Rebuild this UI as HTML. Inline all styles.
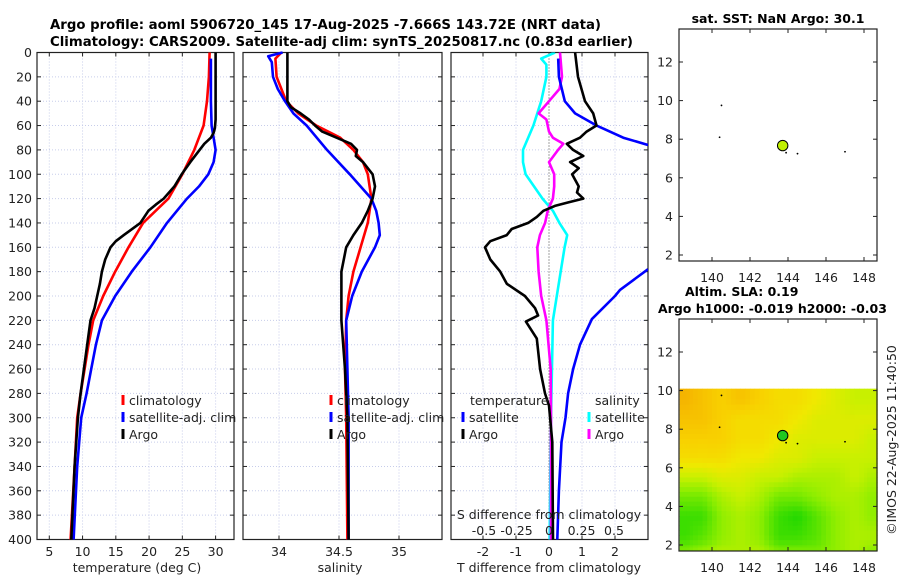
<!DOCTYPE html>
<html><head><meta charset="utf-8"><style>
html,body{margin:0;padding:0;background:#fff;}
svg text{font-family:"DejaVu Sans","Liberation Sans",sans-serif;fill:#222;}
</style></head><body>
<svg id="fig" width="900" height="580" viewBox="0 0 900 580" xmlns="http://www.w3.org/2000/svg">
<text x="50" y="29" font-size="13.5" font-weight="bold" textLength="551" lengthAdjust="spacingAndGlyphs" style="fill:#000">Argo profile: aoml 5906720_145 17-Aug-2025 -7.666S 143.72E (NRT data)</text>
<text x="50" y="46" font-size="13.5" font-weight="bold" textLength="583" lengthAdjust="spacingAndGlyphs" style="fill:#000">Climatology: CARS2009. Satellite-adj clim: synTS_20250817.nc (0.83d earlier)</text>
<g id="root"></g>
</svg>
<script>
// ---------- data ----------
const depthTicks = [0,20,40,60,80,100,120,140,160,180,200,220,240,260,280,300,320,340,360,380,400];
const tempTicks = [5,10,15,20,25,30];
const salTicks = [34,34.5,35];
const tdiffTicks = [-2,-1,0,1,2];
const sdiffTicks = [-0.5,-0.25,0,0.25,0.5];
const sdiffTickLabels = ["-0.5","-0.25","0","0.25","0.5"];

const tClimDepth = [0,20,40,60,80,100,120,140,160,180,200,220,240,260,280,300,340,400];
const tClim = [29.1,29.0,28.7,28.2,26.8,25.0,22.9,19.1,16.9,14.9,13.1,11.6,10.9,10.3,9.7,9.2,8.8,8.2];
const tSatDepth = [5,20,40,60,70,80,90,100,110,120,140,160,180,200,220,240,260,280,300,340,400];
const tSat = [29.3,29.3,29.3,29.4,29.7,30.0,29.7,28.9,27.5,25.7,22.7,20.2,17.4,14.9,12.9,12.0,11.3,10.6,9.8,9.2,8.65];
const tArgoDepth = [0,20,40,55,62,66,70,75,80,90,100,110,120,125,130,140,150,155,160,170,180,190,200,210,220,240,260,280,300,340,400];
const tArgo = [30.0,30.0,30.0,30.0,29.9,29.7,29.3,28.3,27.6,26.2,24.9,23.8,22.2,21.0,19.9,18.7,16.2,15.0,14.2,13.4,12.9,12.6,12.2,11.8,11.2,10.7,10.2,9.7,9.3,8.8,8.3];

const sClimDepth = [0,5,20,30,40,50,60,70,80,90,100,120,140,160,180,200,220,260,300,400];
const sClim = [34.02,33.97,33.98,34.02,34.06,34.16,34.31,34.51,34.62,34.70,34.74,34.77,34.74,34.68,34.62,34.58,34.56,34.55,34.56,34.57];
const sSatDepth = [0,3,8,20,30,40,50,60,80,100,120,130,140,150,160,180,200,220,260,300,400];
const sSat = [34.03,33.91,33.94,33.95,33.99,34.05,34.12,34.23,34.40,34.59,34.77,34.81,34.83,34.84,34.80,34.69,34.61,34.56,34.57,34.58,34.58];
const sArgoDepth = [0,40,45,50,55,60,65,70,75,80,85,90,100,110,120,130,140,150,160,180,200,220,260,300,400];
const sArgo = [34.07,34.07,34.10,34.18,34.25,34.30,34.36,34.48,34.60,34.65,34.64,34.70,34.78,34.80,34.78,34.74,34.69,34.62,34.56,34.52,34.52,34.52,34.55,34.57,34.58];

const dTSatDepth = [5,20,40,50,60,70,76];
const dTSat = [0.28,0.30,0.48,0.79,1.44,2.25,3.0];
const dTSatDeepDepth = [178,195,200,219,240,260,280,300,320,360,400];
const dTSatDeep = [3.0,2.15,2.0,1.3,0.94,0.73,0.58,0.5,0.38,0.30,0.25];
const dTArgoDepth = [0,20,40,50,60,65,70,75,80,85,90,95,100,110,115,120,123,126,130,135,140,145,150,155,160,170,180,190,200,210,216,221,235,260,280,290,320,400];
const dTArgo = [0.79,0.88,1.09,1.34,1.44,1.14,0.94,0.54,0.73,1.04,0.64,0.9,0.7,0.9,0.85,1.04,0.6,0.18,-0.17,-0.37,-0.63,-1.13,-1.28,-1.78,-1.94,-1.78,-1.48,-1.28,-0.73,-0.42,-0.33,-0.7,-0.37,-0.27,-0.12,0.0,0.1,0.12];
const dSSatDepth = [0,5,10,20,40,60,80,90,100,120,130,140,150,160,180,200,220,300,400];
const dSSat = [0.046,-0.06,-0.02,-0.02,-0.06,-0.12,-0.20,-0.20,-0.18,-0.05,0.03,0.08,0.14,0.12,0.09,0.06,0.03,0.015,0.005];
const dSArgoDepth = [0,20,30,40,50,55,60,65,70,75,80,90,100,110,120,130,140,150,160,180,200,220,260,300,400];
const dSArgo = [0.085,0.10,0.08,0.0,-0.08,-0.02,-0.01,0.0,0.03,0.11,0.07,0.0,0.04,0.04,0.03,-0.01,-0.03,-0.07,-0.09,-0.08,-0.06,-0.02,0.013,0.015,0.015];

const lonTicks = [140,142,144,146,148];
const latTicks = [2,4,6,8,10,12];
const slaLats = [10.1,9,8,7,6,5,4,3,2,1.7];
const slaLons = [138.3,139,140,141,142,143,144,145,146,147,148,148.7];
const slaGrid = [
 [0.24,0.23,0.22,0.23,0.22,0.21,0.21,0.20,0.19,0.18,0.18],
 [0.23,0.23,0.22,0.21,0.21,0.21,0.20,0.19,0.19,0.19,0.19],
 [0.22,0.22,0.22,0.21,0.21,0.20,0.19,0.19,0.19,0.19,0.18],
 [0.21,0.21,0.21,0.20,0.20,0.19,0.19,0.18,0.18,0.18,0.18],
 [0.18,0.18,0.19,0.19,0.18,0.18,0.17,0.17,0.17,0.18,0.17],
 [0.15,0.15,0.17,0.18,0.17,0.15,0.15,0.16,0.17,0.17,0.16],
 [0.13,0.13,0.16,0.17,0.16,0.13,0.12,0.14,0.16,0.17,0.16],
 [0.13,0.14,0.16,0.17,0.16,0.13,0.13,0.14,0.16,0.17,0.17],
 [0.15,0.16,0.17,0.17,0.17,0.15,0.15,0.15,0.16,0.17,0.16]
];
const argoLon = 143.72, argoLat = 7.67;
const otherLons = [140.5,140.4,144.5,147.0,143.9];
const otherLats = [9.75,8.1,7.25,7.35,7.3];

// ---------- helpers ----------
const NS = "http://www.w3.org/2000/svg";
const root = document.getElementById("root");
function mk(tag, attrs, parent){ const e=document.createElementNS(NS,tag); for(const k in attrs) e.setAttribute(k,attrs[k]); (parent||root).appendChild(e); return e; }
const Y0=52.5, Y1=539.5;
const yD = d => Y0 + (d/400)*(Y1-Y0);
function lin(d0,d1,r0,r1){ return v => r0 + (v-d0)/(d1-d0)*(r1-r0); }

const P1={x0:37,x1:234}, P2={x0:243,x1:442}, P3={x0:451,x1:648};
const xT = lin(5,30,49.3,215.6);
const xS = lin(34,35,279,399);
const xTD = lin(0,1,549,582);
const xSD = lin(0,1,549,679);

function panel(P, name, xticks, xfn, labels){
  const g = mk("g",{});
  
  
  xticks.forEach(v=>{ const x=xfn(v); mk("line",{x1:x,x2:x,y1:Y0,y2:Y1,stroke:"#c7cdea","stroke-width":1,"stroke-dasharray":"1 2"},g); });
  depthTicks.forEach(d=>{ const y=yD(d); mk("line",{x1:P.x0,x2:P.x1,y1:y,y2:y,stroke:"#c7cdea","stroke-width":1,"stroke-dasharray":"1 2"},g); });
  mk("rect",{x:P.x0,y:Y0,width:P.x1-P.x0,height:Y1-Y0,fill:"none",stroke:"#222","stroke-width":1.2},g);
  depthTicks.forEach(d=>{ const y=yD(d); mk("line",{x1:P.x0,x2:P.x0+4,y1:y,y2:y,stroke:"#222"},g); mk("line",{x1:P.x1-4,x2:P.x1,y1:y,y2:y,stroke:"#222"},g); });
  xticks.forEach((v,i)=>{ const x=xfn(v); mk("line",{x1:x,x2:x,y1:Y1,y2:Y1-4,stroke:"#222"},g); mk("line",{x1:x,x2:x,y1:Y0,y2:Y0+4,stroke:"#222"},g);
    if(labels){ const t=mk("text",{x:x,y:556,"font-size":12.5,"text-anchor":"middle"},g); t.textContent=labels[i];   }
  });
  return g;
}
function line(g, depths, vals, xfn, color, name, clip){
  const pts = depths.map((d,i)=> xfn(vals[i]).toFixed(1)+","+yD(d).toFixed(1)).join(" ");
  const p = mk("polyline",{points:pts,fill:"none",stroke:color,"stroke-width":2.6,"stroke-linejoin":"round"},g);
  if(clip) p.setAttribute("clip-path",clip);
  
  
}
function legendEntry(g,x,y,color,label){
  const e = mk("g",{},g);
  
  
  mk("line",{x1:x,x2:x,y1:y-10,y2:y,stroke:color,"stroke-width":3},e);
  const t=mk("text",{x:x+6,y:y,"font-size":12.5},e); t.textContent=label;
}
function txt(x,y,s,attrs,name){ const t=mk("text",Object.assign({x:x,y:y,"font-size":12.5},attrs||{})); t.textContent=s;   return t; }

const defs = mk("defs",{});
const cp = mk("clipPath",{id:"c3"},defs); mk("rect",{x:P3.x0,y:Y0,width:P3.x1-P3.x0,height:Y1-Y0},cp);

// ---------- panel 1 ----------
const g1 = panel(P1,"temperature-panel",tempTicks,xT,tempTicks.map(String));
depthTicks.forEach(d=>{ txt(32,yD(d)+4.5,String(d),{"text-anchor":"end"},"y-tick-label"); });
line(g1,tClimDepth,tClim,xT,"#ff0000","temp-climatology-line");
line(g1,tSatDepth,tSat,xT,"#0000ff","temp-satellite-line");
line(g1,tArgoDepth,tArgo,xT,"#000000","temp-argo-line");
legendEntry(g1,123,405,"#ff0000","climatology");
legendEntry(g1,123,422,"#0000ff","satellite-adj. clim");
legendEntry(g1,123,439,"#000000","Argo");
txt(137,572,"temperature (deg C)",{"text-anchor":"middle"},"x-axis-title-temperature");

// ---------- panel 2 ----------
const g2 = panel(P2,"salinity-panel",salTicks,xS,["34","34.5","35"]);
line(g2,sClimDepth,sClim,xS,"#ff0000","sal-climatology-line");
line(g2,sSatDepth,sSat,xS,"#0000ff","sal-satellite-line");
line(g2,sArgoDepth,sArgo,xS,"#000000","sal-argo-line");
legendEntry(g2,331,405,"#ff0000","climatology");
legendEntry(g2,331,422,"#0000ff","satellite-adj. clim");
legendEntry(g2,331,439,"#000000","Argo");
txt(340,572,"salinity",{"text-anchor":"middle"},"x-axis-title-salinity");

// ---------- panel 3 ----------
const g3 = panel(P3,"difference-panel",tdiffTicks,xTD,tdiffTicks.map(String));
mk("line",{x1:549,x2:549,y1:Y0,y2:Y1,stroke:"#444","stroke-dasharray":"1 2"},g3);
line(g3,dSSatDepth,dSSat,xSD,"#00ffff","sdiff-satellite-line","url(#c3)");
line(g3,dSArgoDepth,dSArgo,xSD,"#ff00ff","sdiff-argo-line","url(#c3)");
line(g3,dTSatDepth,dTSat,xTD,"#0000ff","tdiff-satellite-line","url(#c3)");
line(g3,dTSatDeepDepth,dTSatDeep,xTD,"#0000ff","tdiff-satellite-deep-line","url(#c3)");
line(g3,dTArgoDepth,dTArgo,xTD,"#000000","tdiff-argo-line","url(#c3)");
txt(470,405,"temperature",{},"legend-title-temperature");
legendEntry(g3,463,422,"#0000ff","satellite");
legendEntry(g3,463,439,"#000000","Argo");
txt(595,405,"salinity",{},"legend-title-salinity");
legendEntry(g3,589,422,"#00ffff","satellite");
legendEntry(g3,589,439,"#ff00ff","Argo");
txt(549,519,"S difference from climatology",{"text-anchor":"middle"},"s-diff-axis-title");
sdiffTicks.forEach((v,i)=>{ txt(xSD(v),535,sdiffTickLabels[i],{"text-anchor":"middle"},"s-diff-tick-label"); });
txt(549,572,"T difference from climatology",{"text-anchor":"middle"},"x-axis-title-tdiff");

// ---------- maps ----------
const MX0=679, MX1=877;
const xLon = lin(140,148,712,864);
function slaColor(v){
  const stops=[[0.12,[32,216,0]],[0.16,[144,238,0]],[0.18,[200,240,0]],[0.20,[240,232,0]],[0.22,[248,208,0]],[0.24,[245,180,0]]];
  if(v<=stops[0][0]) return "rgb("+stops[0][1]+")";
  for(let i=1;i<stops.length;i++){ if(v<=stops[i][0]){ const a=stops[i-1],b=stops[i],f=(v-a[0])/(b[0]-a[0]); return "rgb("+a[1].map((c,j)=>Math.round(c+(b[1][j]-c)*f)).join(",")+")"; } }
  return "rgb("+stops[stops.length-1][1]+")";
}
function sampleGrid(rf,cf){
  const R=slaGrid.length, C=slaGrid[0].length;
  rf=Math.max(0,Math.min(R-1,rf)); cf=Math.max(0,Math.min(C-1,cf));
  const r0=Math.floor(rf), c0=Math.floor(cf), r1=Math.min(R-1,r0+1), c1=Math.min(C-1,c0+1);
  const fr=rf-r0, fc=cf-c0;
  const a=slaGrid[r0][c0]*(1-fc)+slaGrid[r0][c1]*fc, b=slaGrid[r1][c0]*(1-fc)+slaGrid[r1][c1]*fc;
  return a*(1-fr)+b*fr;
}
function map(top,bottom,lat2y,name,heat){
  const g = mk("g",{});
  
  
  if(heat){
    const SUB=4;
    slaGrid.forEach((row,r)=>row.forEach((v,c)=>{
      for(let i=0;i<SUB;i++) for(let j=0;j<SUB;j++){
        const la0=slaLats[r]+(slaLats[r+1]-slaLats[r])*i/SUB, la1=slaLats[r]+(slaLats[r+1]-slaLats[r])*(i+1)/SUB;
        const lo0=slaLons[c]+(slaLons[c+1]-slaLons[c])*j/SUB, lo1=slaLons[c]+(slaLons[c+1]-slaLons[c])*(j+1)/SUB;
        const val=sampleGrid(r-0.5+(i+0.5)/SUB, c-0.5+(j+0.5)/SUB);
        const x0=xLon(lo0), x1=xLon(lo1), y0=lat2y(la0), y1=lat2y(la1);
        const cell=mk("rect",{x:x0,y:y0,width:x1-x0+0.4,height:y1-y0+0.4,fill:slaColor(val)},g);
        
        
      }
    }));
  }
  mk("rect",{x:MX0,y:top,width:MX1-MX0,height:bottom-top,fill:"none",stroke:"#222","stroke-width":1.2},g);
  lonTicks.forEach(v=>{ const x=xLon(v); mk("line",{x1:x,x2:x,y1:bottom,y2:bottom-4,stroke:"#222"},g); mk("line",{x1:x,x2:x,y1:top,y2:top+4,stroke:"#222"},g);
    const t=mk("text",{x:x,y:bottom+21,"font-size":12.5,"text-anchor":"middle"},g); t.textContent=String(v); });
  latTicks.forEach(v=>{ const y=lat2y(v); mk("line",{x1:MX0,x2:MX0+4,y1:y,y2:y,stroke:"#222"},g); mk("line",{x1:MX1-4,x2:MX1,y1:y,y2:y,stroke:"#222"},g);
    const t=mk("text",{x:673,y:y+4.5,"font-size":12.5,"text-anchor":"end"},g); t.textContent=String(v); });
  otherLons.forEach((lo,i)=>{ const d=mk("circle",{cx:xLon(lo),cy:lat2y(otherLats[i]),r:0.9,fill:"#000"},g);   });
  const a=mk("circle",{cx:xLon(argoLon),cy:lat2y(argoLat),r:5.2,fill:heat?"#20c820":"#c0f000",stroke:"#000","stroke-width":1},g);
  
  
}
map(29,261,lin(2,12,255,62),"sst-map",false);
map(319,551,lin(2,12,545,352),"sla-map",true);
txt(778,23,"sat. SST: NaN Argo: 30.1",{"text-anchor":"middle","font-weight":"bold",style:"fill:#000"},"sst-map-title");
txt(685,296,"Altim. SLA: 0.19",{"font-weight":"bold",style:"fill:#000"},"sla-title");
txt(658,313,"Argo h1000: -0.019 h2000: -0.03",{"font-weight":"bold",style:"fill:#000"},"argo-height-title");
txt(0,0,"©IMOS 22-Aug-2025 11:40:50",{"text-anchor":"middle",transform:"translate(896,440) rotate(-90)"},"copyright-label");
</script>
</body></html>
